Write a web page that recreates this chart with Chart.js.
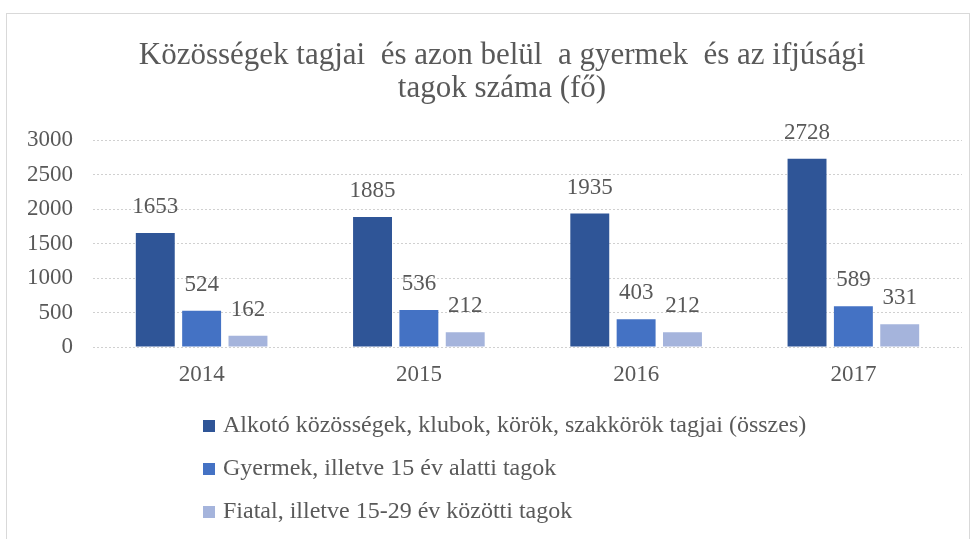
<!DOCTYPE html>
<html><head><meta charset="utf-8">
<script src="https://cdn.jsdelivr.net/npm/chart.js@4.4.0/dist/chart.umd.min.js"></script>
<style>html,body{margin:0;padding:0;background:#fff}#wrap{width:978px;height:539px;position:relative}</style>
</head><body><div id="wrap"><canvas id="c" width="978" height="539"></canvas></div>
<script>
const categories = ['2014', '2015', '2016', '2017'];
const seriesNames = [
  'Alkotó közösségek, klubok, körök, szakkörök tagjai (összes)',
  'Gyermek, illetve 15 év alatti tagok',
  'Fiatal, illetve 15-29 év közötti tagok'
];
const totalMembers = [1653, 1885, 1935, 2728];
const childMembers = [524, 536, 403, 589];
const youthMembers = [162, 212, 212, 331];
const yTicks = [0, 500, 1000, 1500, 2000, 2500, 3000];
const titleLines = ['Közösségek tagjai  és azon belül  a gyermek  és az ifjúsági', 'tagok száma (fő)'];

const colors = ['#2F5597', '#4472C4', '#A5B4DC'];
const TXT = '#595959';
const SERIF = '"Liberation Serif", "Times New Roman", serif';

const framePlugin = {
  id: 'frame',
  beforeDraw(chart) {
    const ctx = chart.ctx;
    ctx.save();
    ctx.fillStyle = '#fff';
    ctx.fillRect(0, 0, chart.width, chart.height);
    ctx.strokeStyle = '#D9D9D9';
    ctx.lineWidth = 1;
    ctx.strokeRect(6.5, 13.5, 963, 540);
    ctx.restore();
  },
  afterDraw(chart) {
    const ctx = chart.ctx;
    ctx.save();
    ctx.font = '31px ' + SERIF;
    ctx.fillStyle = TXT;
    ctx.textAlign = 'center';
    ctx.textBaseline = 'middle';
    ctx.fillText(titleLines[0], 502, 56);
    ctx.fillText(titleLines[1], 502, 89);
    ctx.restore();
  }
};

const valueLabels = {
  id: 'valueLabels',
  afterDatasetsDraw(chart) {
    const ctx = chart.ctx;
    ctx.save();
    ctx.font = '23px ' + SERIF;
    ctx.fillStyle = TXT;
    ctx.textAlign = 'center';
    ctx.textBaseline = 'middle';
    chart.data.datasets.forEach((ds, i) => {
      const meta = chart.getDatasetMeta(i);
      meta.data.forEach((bar, j) => {
        ctx.fillText(String(ds.data[j]), bar.x, bar.y - 26);
      });
    });
    ctx.restore();
  }
};

const vLegend = {
  id: 'vLegend',
  afterDraw(chart) {
    const ctx = chart.ctx;
    ctx.save();
    ctx.font = '24px ' + SERIF;
    ctx.textBaseline = 'middle';
    ctx.textAlign = 'left';
    const ys = [426, 469, 512];
    chart.data.datasets.forEach((ds, i) => {
      ctx.fillStyle = ds.backgroundColor;
      ctx.fillRect(203, ys[i] - 6, 12, 12);
      ctx.fillStyle = TXT;
      ctx.fillText(ds.label, 223, ys[i]);
    });
    ctx.restore();
  }
};

new Chart(document.getElementById('c'), {
  type: 'bar',
  data: {
    labels: categories,
    datasets: [
      { label: seriesNames[0], data: totalMembers, backgroundColor: colors[0] },
      { label: seriesNames[1], data: childMembers, backgroundColor: colors[1] },
      { label: seriesNames[2], data: youthMembers, backgroundColor: colors[2] }
    ]
  },
  options: {
    responsive: false,
    animation: false,
    devicePixelRatio: 1,
    layout: { padding: { left: 0, right: 16, top: 140, bottom: 142 } },
    datasets: { bar: { categoryPercentage: 0.64, barPercentage: 0.84 } },
    plugins: {
      legend: { display: false },
      tooltip: { enabled: false },
      title: { display: false }
    },
    scales: {
      x: {
        grid: { display: false, drawTicks: false },
        border: { display: false },
        ticks: { color: TXT, font: { family: SERIF, size: 23 }, padding: 14 },
        afterFit(s) { s.height = 50; }
      },
      y: {
        min: 0, max: 3000,
        afterBuildTicks(s) { s.ticks = yTicks.map(v => ({ value: v })); },
        grid: { color: '#D0D0D0', drawTicks: false, lineWidth: 1 },
        border: { display: false, dash: [2, 2] },
        ticks: { color: TXT, font: { family: SERIF, size: 23 }, padding: 20, callback: v => String(v) },
        afterFit(s) { s.width = 93; }
      }
    }
  },
  plugins: [framePlugin, valueLabels, vLegend]
});
</script></body></html>
